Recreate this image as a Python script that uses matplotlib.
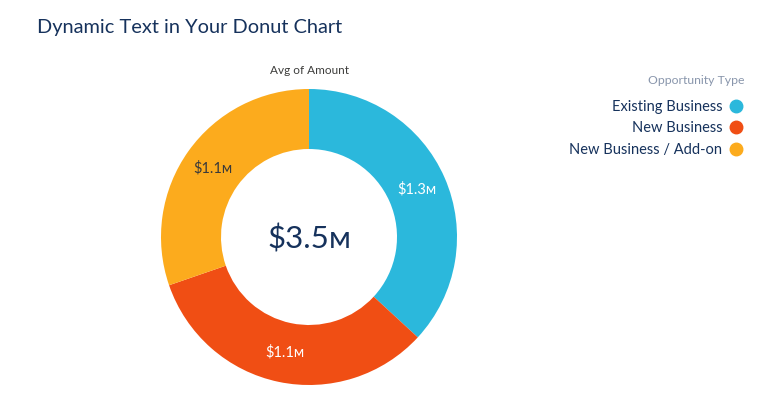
import numpy as np
import matplotlib.pyplot as plt
from matplotlib.lines import Line2D

plt.rcParams['font.family'] = ['Lato', 'DejaVu Sans']

categories = ['Existing Business', 'New Business', 'New Business / Add-on']
values = [1.29, 1.15, 1.06]  # $M, average of amount
labels = ['$1.3ᴍ', '$1.1ᴍ', '$1.1ᴍ']
total_label = '$3.5ᴍ'
colors = ['#2bb8dc', '#f04e14', '#fcab1d']
label_colors = ['white', 'white', '#3a3a3a']

W, H = 773, 405
fig = plt.figure(figsize=(W / 100, H / 100), dpi=100)
ax = fig.add_axes([0, 0, 1, 1])

cx, cy, r = 309, H - 237, 148
wedges, _ = ax.pie(values, colors=colors, startangle=90, counterclock=False,
                   center=(cx, cy), radius=r,
                   wedgeprops=dict(width=60, linewidth=0))
ax.set_xlim(0, W)
ax.set_ylim(0, H)
ax.set_aspect('equal')
ax.axis('off')

# slice labels at middle of the ring
rm = r - 30
for w, lab, lc in zip(wedges, labels, label_colors):
    ang = np.deg2rad((w.theta1 + w.theta2) / 2)
    ax.text(cx + rm * np.cos(ang), cy + rm * np.sin(ang), lab, color=lc,
            fontsize=10.5, ha='center', va='center')

ax.text(cx, cy - 2, total_label, fontsize=22.5, color='#16325c', ha='center', va='center')
ax.text(cx, H - 71, 'Avg of Amount', fontsize=8.5, color='#3e3e3c', ha='center', va='center')
fig.text(37 / W, 1 - 28 / H, 'Dynamic Text in Your Donut Chart', fontsize=14.4,
         color='#16325c', ha='left', va='center')

# legend
fig.text(744 / W, 1 - 81 / H, 'Opportunity Type', fontsize=8.8, color='#8996ac',
         ha='right', va='center')
handles = [Line2D([], [], marker='o', linestyle='', markersize=9, color=c) for c in colors]
leg = fig.legend(handles, categories, markerfirst=False,
                 loc='upper right', bbox_to_anchor=(756 / W, 1 - 87 / H),
                 frameon=False, fontsize=10.5, labelspacing=0.5,
                 handletextpad=0.4, handlelength=1.0)
for t in leg.get_texts():
    t.set_color('#16325c')

fig.savefig('out.png', dpi=100)
